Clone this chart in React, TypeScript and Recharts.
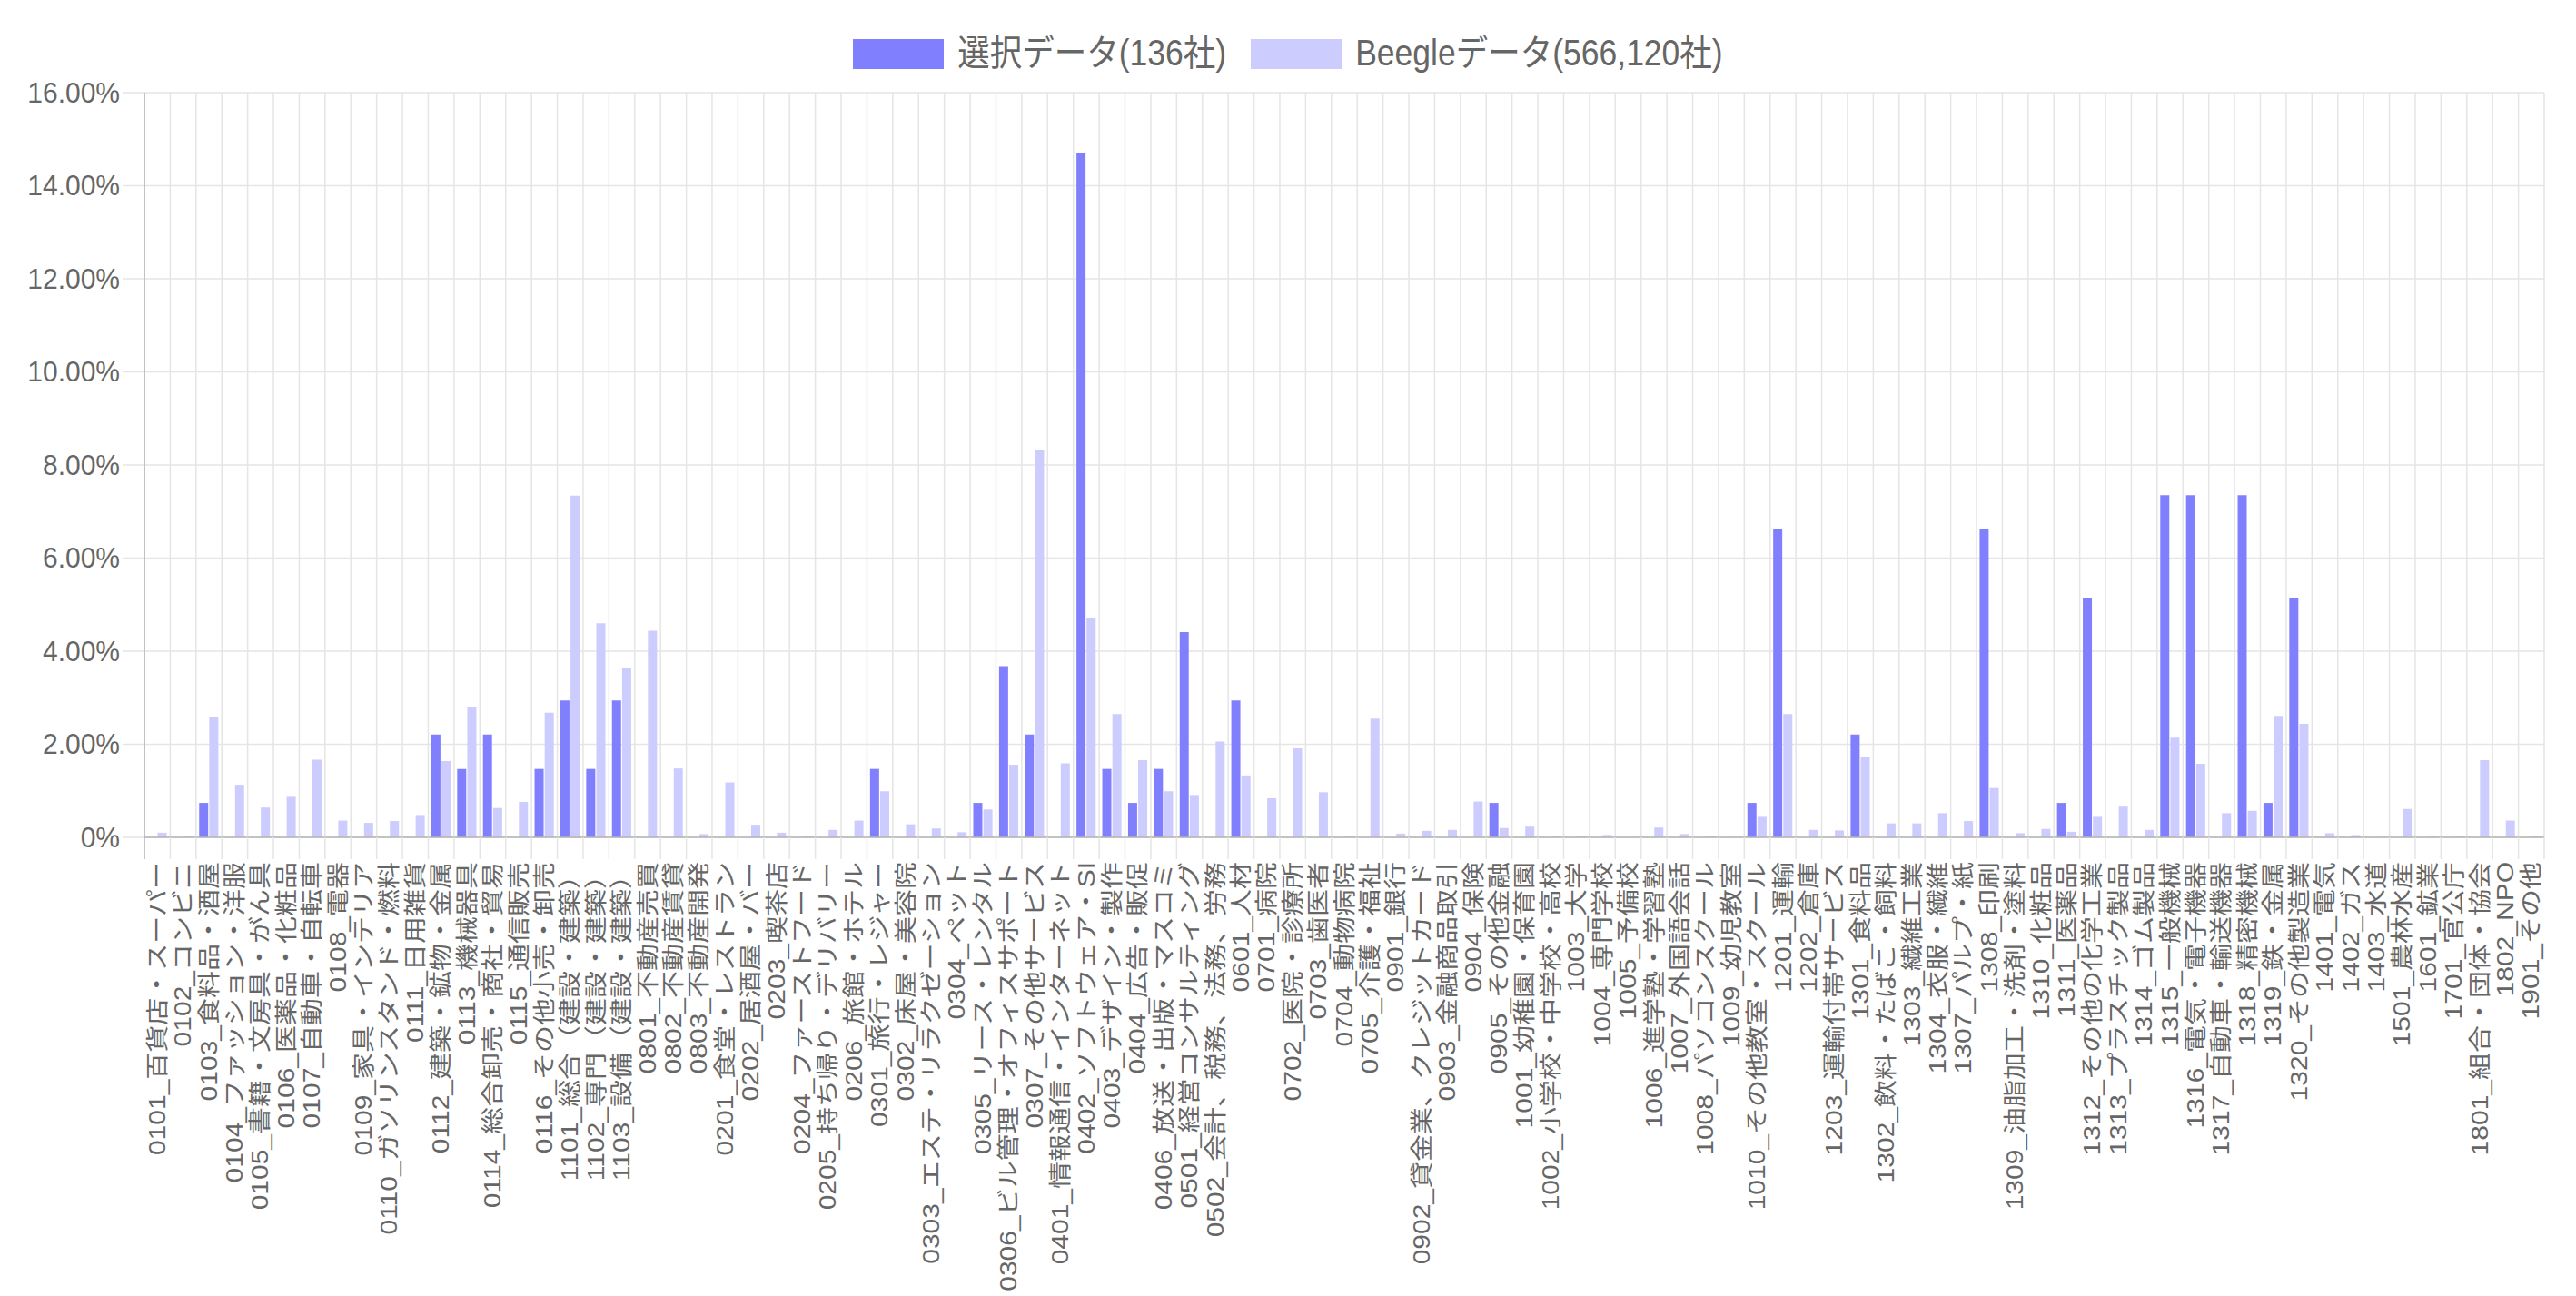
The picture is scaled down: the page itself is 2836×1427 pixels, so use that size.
import React from "react";
import { BarChart, Bar, XAxis, YAxis, CartesianGrid } from "recharts";

const categories: string[] = [
  "0101_百貨店・スーパー", "0102_コンビニ", "0103_食料品・酒屋", "0104_ファッション・洋服",
  "0105_書籍・文房具・がん具", "0106_医薬品・化粧品", "0107_自動車・自転車", "0108_電器",
  "0109_家具・インテリア", "0110_ガソリンスタンド・燃料", "0111_日用雑貨", "0112_建築・鉱物・金属",
  "0113_機械器具", "0114_総合卸売・商社・貿易", "0115_通信販売", "0116_その他小売・卸売",
  "1101_総合（建設・建築）", "1102_専門（建設・建築）", "1103_設備（建設・建築）", "0801_不動産売買",
  "0802_不動産賃貸", "0803_不動産開発", "0201_食堂・レストラン", "0202_居酒屋・バー",
  "0203_喫茶店", "0204_ファーストフード", "0205_持ち帰り・デリバリー", "0206_旅館・ホテル",
  "0301_旅行・レジャー", "0302_床屋・美容院", "0303_エステ・リラクゼーション", "0304_ペット",
  "0305_リース・レンタル", "0306_ビル管理・オフィスサポート", "0307_その他サービス", "0401_情報通信・インターネット",
  "0402_ソフトウェア・SI", "0403_デザイン・製作", "0404_広告・販促", "0406_放送・出版・マスコミ",
  "0501_経営コンサルティング", "0502_会計、税務、法務、労務", "0601_人材", "0701_病院",
  "0702_医院・診療所", "0703_歯医者", "0704_動物病院", "0705_介護・福祉",
  "0901_銀行", "0902_貸金業、クレジットカード", "0903_金融商品取引", "0904_保険",
  "0905_その他金融", "1001_幼稚園・保育園", "1002_小学校・中学校・高校", "1003_大学",
  "1004_専門学校", "1005_予備校", "1006_進学塾・学習塾", "1007_外国語会話",
  "1008_パソコンスクール", "1009_幼児教室", "1010_その他教室・スクール", "1201_運輸",
  "1202_倉庫", "1203_運輸付帯サービス", "1301_食料品", "1302_飲料・たばこ・飼料",
  "1303_繊維工業", "1304_衣服・繊維", "1307_パルプ・紙", "1308_印刷",
  "1309_油脂加工・洗剤・塗料", "1310_化粧品", "1311_医薬品", "1312_その他の化学工業",
  "1313_プラスチック製品", "1314_ゴム製品", "1315_一般機械", "1316_電気・電子機器",
  "1317_自動車・輸送機器", "1318_精密機械", "1319_鉄・金属", "1320_その他製造業",
  "1401_電気", "1402_ガス", "1403_水道", "1501_農林水産",
  "1601_鉱業", "1701_官公庁", "1801_組合・団体・協会", "1802_NPO",
  "1901_その他",
];

const selectedValues: number[] = [
  0, 0, 0.74, 0, 0, 0, 0, 0, 0, 0, 0, 2.21, 1.47, 2.21, 0, 1.47,
  2.94, 1.47, 2.94, 0, 0, 0, 0, 0, 0, 0, 0, 0, 1.47, 0, 0, 0,
  0.74, 3.68, 2.21, 0, 14.71, 1.47, 0.74, 1.47, 4.41, 0, 2.94, 0, 0, 0, 0, 0,
  0, 0, 0, 0, 0.74, 0, 0, 0, 0, 0, 0, 0, 0, 0, 0.74, 6.62,
  0, 0, 2.21, 0, 0, 0, 0, 6.62, 0, 0, 0.74, 5.15, 0, 0, 7.35, 7.35,
  0, 7.35, 0.74, 5.15, 0, 0, 0, 0, 0, 0, 0, 0, 0,
];

const beegleValues: number[] = [
  0.10, 0.02, 2.59, 1.13, 0.64, 0.87, 1.67, 0.36, 0.31, 0.35, 0.48, 1.64, 2.80, 0.63, 0.76, 2.68,
  7.34, 4.60, 3.63, 4.44, 1.48, 0.07, 1.18, 0.27, 0.10, 0.02, 0.16, 0.36, 0.99, 0.28, 0.19, 0.11,
  0.60, 1.56, 8.31, 1.59, 4.72, 2.65, 1.66, 0.99, 0.91, 2.06, 1.33, 0.84, 1.91, 0.97, 0.02, 2.55,
  0.08, 0.14, 0.16, 0.77, 0.20, 0.23, 0.02, 0.03, 0.05, 0.01, 0.21, 0.07, 0.03, 0.01, 0.44, 2.65,
  0.16, 0.15, 1.73, 0.30, 0.30, 0.52, 0.35, 1.06, 0.09, 0.18, 0.12, 0.44, 0.66, 0.16, 2.14, 1.58,
  0.52, 0.57, 2.61, 2.44, 0.09, 0.05, 0.01, 0.61, 0.03, 0.03, 1.66, 0.36, 0.03,
];

const yTicks: number[] = [0, 2, 4, 6, 8, 10, 12, 14, 16];
const seriesNames: string[] = ["選択データ(136社)", "Beegleデータ(566,120社)"];
const seriesColors: string[] = ["#8080ff", "#ccccff"];

const W = 2836;
const H = 1427;
const MARGIN = { top: 102, right: 35, bottom: 0, left: 0 };
const Y_AXIS_W = 159;
const X_AXIS_H = 505;
const TICK_LEN = 24;
const PLOT_W = W - MARGIN.left - MARGIN.right - Y_AXIS_W;
const PLOT_H = H - MARGIN.top - MARGIN.bottom - X_AXIS_H;
const BAND = PLOT_W / categories.length;
const GRID = "#e5e5e5";
const AXIS = "#b5b5b5";
const TEXT = "#666666";
const FONT = "'Liberation Sans', Arial, 'Noto Sans CJK JP', sans-serif";

const data = categories.map((c, i) => ({
  name: c,
  selected: selectedValues[i],
  beegle: beegleValues[i],
}));

const fmtPct = (v: number) => (v === 0 ? "0%" : `${v.toFixed(2)}%`);

const XTick = (props: any) => {
  const { x, y, payload, index } = props;
  const axisY = MARGIN.top + PLOT_H;
  const half = BAND / 2;
  return (
    <g>
      <line x1={x - half} x2={x - half} y1={axisY} y2={axisY + TICK_LEN} stroke={index === 0 ? AXIS : GRID} strokeWidth={1.5} />
      {index === categories.length - 1 && (
        <line x1={x + half} x2={x + half} y1={axisY} y2={axisY + TICK_LEN} stroke={GRID} strokeWidth={1.5} />
      )}
      <text
        transform={`translate(${x},${y}) scale(1,1.2) rotate(-90)`}
        textAnchor="end"
        dominantBaseline="central"
        fill={TEXT}
        fontSize={25}
        fontFamily={FONT}
      >
        {payload.value}
      </text>
    </g>
  );
};

const YTick = (props: any) => {
  const { x, y, payload } = props;
  return (
    <text
      transform={`translate(${x},${y}) scale(1,1.05)`}
      textAnchor="end"
      dominantBaseline="central"
      fill={TEXT}
      fontSize={30}
      fontFamily={FONT}
    >
      {fmtPct(payload.value)}
    </text>
  );
};

const LegendBox = () => (
  <div
    style={{
      position: "absolute",
      left: 0,
      top: 43,
      width: W,
      height: 33,
      display: "flex",
      justifyContent: "center",
      alignItems: "center",
      fontFamily: FONT,
      fontSize: 35.5,
      color: TEXT,
    }}
  >
    {seriesNames.map((n, i) => (
      <div key={n} style={{ display: "flex", alignItems: "center", marginRight: i === 0 ? 27 : 0 }}>
        <div style={{ width: 100, height: 33, background: seriesColors[i], marginRight: 15 }} />
        <span style={{ display: "inline-block", transform: "scaleY(1.12)", lineHeight: "33px", whiteSpace: "nowrap" }}>
          {n}
        </span>
      </div>
    ))}
  </div>
);

export default function App() {
  return (
    <div style={{ position: "absolute", left: 0, top: 0, width: W, height: H, background: "#fff" }}>
      <BarChart
        width={W}
        height={H}
        data={data}
        margin={MARGIN}
        barCategoryGap="12%"
        barGap="4%"
      >
        <CartesianGrid
          stroke={GRID}
          strokeWidth={1.5}
          horizontal={true}
          vertical={true}
          verticalCoordinatesGenerator={({ offset }: any) =>
            categories.map((_, k) => offset.left + k * (offset.width / categories.length)).concat([offset.left + offset.width])
          }
        />
        <XAxis
          dataKey="name"
          interval={0}
          height={X_AXIS_H}
          tick={<XTick />}
          tickLine={false}
          tickSize={TICK_LEN}
          tickMargin={3}
          axisLine={{ stroke: AXIS, strokeWidth: 1.5 }}
        />
        <YAxis
          type="number"
          domain={[0, 16]}
          ticks={yTicks}
          interval={0}
          width={Y_AXIS_W}
          tick={<YTick />}
          tickLine={{ stroke: GRID, strokeWidth: 1.5 }}
          tickSize={TICK_LEN}
          tickMargin={3}
          axisLine={{ stroke: AXIS, strokeWidth: 1.5 }}
        />
        <Bar dataKey="selected" name={seriesNames[0]} fill={seriesColors[0]} isAnimationActive={false} />
        <Bar dataKey="beegle" name={seriesNames[1]} fill={seriesColors[1]} isAnimationActive={false} />
      </BarChart>
      <LegendBox />
    </div>
  );
}
